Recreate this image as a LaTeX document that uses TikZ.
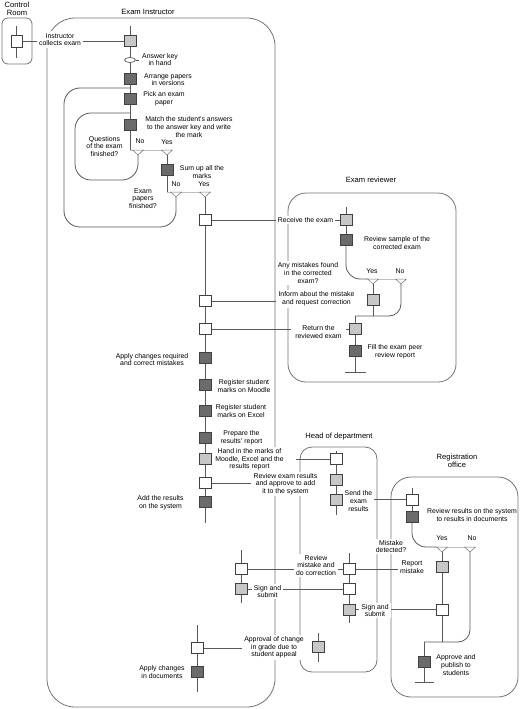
\documentclass[tikz,border=0pt]{standalone}
\usepackage{fontspec}
\setmainfont{Liberation Sans}
\usetikzlibrary{shapes.geometric,backgrounds}
\newcommand{\mytri}[3]{\coordinate (#1) at (#2,#3); \coordinate (#1a) at (#2,#3+5); \draw[tri] (#2-5.5,#3) -- (#2+5.5,#3) -- (#2,#3+5) -- cycle;}
\begin{document}
\begin{tikzpicture}[x=1pt,y=-1pt,
  every node/.style={font=\fontsize{6.9}{7.6}\selectfont, inner sep=0pt},
  sq/.style={draw=black!75, line width=0.6pt, minimum width=12pt, minimum height=11pt},
  wsq/.style={sq, fill=white},
  dsq/.style={sq, fill=black!58},
  hsq/.style={sq, fill=black!22},
  txt/.style={align=center},
  lbl/.style={align=center, fill=white, inner xsep=2pt, inner ysep=1.5pt},
  role/.style={align=center, font=\fontsize{7.6}{8.4}\selectfont},
  ln/.style={draw=black!65, line width=0.8pt},
  box/.style={draw=black!55, line width=0.8pt},
  gln/.style={draw=black!25, line width=0.8pt},
  tri/.style={draw=black!55, fill=white, line width=0.5pt},
]
\useasboundingbox (0,0) rectangle (520,709);
% ---------- Control Room
\node[role] (crl) at (17,8.5) {Control\\Room};
\node[wsq, minimum width=11pt, minimum height=12pt] (crs) at (16.5,41) {};
\coordinate (crt) at (16.5,26);
\coordinate (crb) at (16.5,58);
% ---------- Exam Instructor
\node[role] (eil) at (148,11.5) {Exam Instructor};
\node[hsq] (eih1) at (130,41) {};
\node[lbl, inner ysep=2.5pt] (collect) at (60,39.5) {Instructor\\collects exam};
\coordinate (e1t) at (130,26);
\node[draw=black!75, line width=0.6pt, fill=white, ellipse, minimum width=11pt, minimum height=5pt] (eak) at (130,60) {};
\coordinate (eakt) at (138.5,60);
\node[txt] (eakl) at (160,59.5) {Answer key\\in hand};
\node[dsq] (eid1) at (130,79) {};
\node[txt] (eid1l) at (168,79.5) {Arrange papers\\in versions};
\node[dsq] (eid2) at (130,99) {};
\node[txt] (eid2l) at (164,99) {Pick an exam\\paper};
\node[dsq] (eid3) at (130,125) {};
\node[txt] (eid3l) at (189,127) {Match the student's answers\\to the answer key and write\\the mark};
\coordinate (ol) at (130,88);
\coordinate (olc) at (64,227);
\coordinate (il) at (130,113);
\coordinate (ilc) at (75,180);
\coordinate (d1c) at (130,150);
\node[txt] (d1q) at (104.5,146.5) {Questions\\of the exam\\finished?};
\node[txt] (d1nl) at (140,141.5) {No};
\node[txt] (d1yl) at (167,142) {Yes};
\node[dsq] (eid4) at (167,170) {};
\node[txt] (eid4l) at (202,172) {Sum up all the\\marks};
\coordinate (d2c) at (167,192);
\node[txt] (d2q) at (143,198.5) {Exam\\papers\\finished?};
\node[txt] (d2nl) at (176,184.5) {No};
\node[txt] (d2yl) at (204,184.5) {Yes};
\node[wsq] (eiw1) at (205,220) {};
\node[wsq] (eiw2) at (205,301) {};
\node[wsq] (eiw3) at (205,329) {};
\node[dsq] (eid5) at (205,358) {};
\node[txt] (eid5l) at (152,359.5) {Apply changes required\\and correct mistakes};
\node[dsq] (eid6) at (205,385) {};
\node[txt] (eid6l) at (244,386) {Register student\\marks on Moodle};
\node[dsq] (eid7) at (205,411) {};
\node[txt] (eid7l) at (241,411) {Register student\\marks on Excel};
\node[dsq] (eid8) at (205,438) {};
\node[txt] (eid8l) at (241.5,438) {Prepare the\\results' report};
\node[hsq] (eih2) at (205,459) {};
\node[lbl] (hand) at (249.5,459.5) {Hand in the marks of\\Moodle, Excel and the\\results report};
\coordinate (handend) at ([xshift=10pt]hand.east);
\node[wsq] (eiw4) at (205,483) {};
\node[dsq] (eid9) at (205,502) {};
\node[txt] (eid9l) at (160.5,503) {Add the results\\on the system};
\coordinate (e2b) at (205,523);
\coordinate (e3t) at (241,550);
\node[wsq] (eiw5) at (241,569) {};
\node[hsq] (eih3) at (241,589) {};
\coordinate (e3b) at (241,603);
\coordinate (e4t) at (197,625);
\node[wsq] (eiw6) at (197,648) {};
\node[dsq] (eid10) at (197,672) {};
\node[txt] (eid10l) at (162,672) {Apply changes\\in documents};
\coordinate (e4b) at (197,692);
% ---------- Exam reviewer
\node[role] (erl) at (371,180) {Exam reviewer};
\coordinate (ert) at (346,207);
\node[hsq] (erh1) at (346,220) {};
\node[dsq] (erd1) at (346,240) {};
\node[txt] (erd1l) at (397,243) {Review sample of the\\corrected exam};
\coordinate (d3l) at (367.5,279);
\node[txt] (d3yl) at (372,271.5) {Yes};
\node[txt] (d3nl) at (400,271.5) {No};
\node[hsq] (erh2) at (373,300) {};
\coordinate (erj1) at (373,316);
\coordinate (erj) at (355,316);
\node[hsq] (erh3) at (355,329) {};
\node[dsq] (erd2) at (355,351) {};
\node[txt] (erd2l) at (395,352) {Fill the exam peer\\review report};
\coordinate (erb) at (355,372);
\coordinate (erb1) at (345,372);
\coordinate (erb2) at (366,372);
\node[lbl] (recv) at (305.5,220) {Receive the exam};
\node[lbl, inner xsep=1pt] (anym) at (308,273) {Any mistakes found\\in the corrected\\exam?};
\node[lbl] (infm) at (316.5,299) {Inform about the mistake\\and request correction};
\node[lbl, inner xsep=4pt] (retn) at (318.5,332) {Return the\\reviewed exam};
% ---------- Head of department
\node[role] (hodl) at (339,437) {Head of department};
\coordinate (h1t) at (336,451);
\node[wsq] (hodw1) at (336,459) {};
\node[hsq] (hodh1) at (336,480) {};
\node[hsq] (hodh2) at (336,499.5) {};
\coordinate (h1b) at (336,515);
\node[lbl] (send) at (358.5,501) {Send the\\exam\\results};
\node[lbl] (rvres) at (285.5,484) {Review exam results\\and approve to add\\it to the system};
\coordinate (h2t) at (349,553);
\node[wsq] (hodw2) at (349,569) {};
\node[wsq] (hodw3) at (349,589) {};
\node[hsq] (hodh3) at (349,609.5) {};
\coordinate (h2b) at (349,623);
\coordinate (h3t) at (318,633);
\node[hsq] (hodh4) at (318,647) {};
\coordinate (h3b) at (318,662);
\node[lbl] (rvmis) at (316,565.5) {Review\\mistake and\\do correction};
\node[lbl] (sgn1) at (267.5,591.5) {Sign and\\submit};
\node[lbl] (sgn2) at (375,610.5) {Sign and\\submit};
\node[lbl] (aprv) at (274,647.5) {Approval of change\\in grade due to\\student appeal};
\node[lbl] (mdet) at (391,546.5) {Mistake\\detected?};
\node[lbl] (repm) at (412,567) {Report\\mistake};
% ---------- Registration office
\node[role] (rol) at (457,460.5) {Registration\\office};
\coordinate (rot) at (412,488);
\node[wsq] (row1) at (412,499.5) {};
\node[dsq] (rod1) at (412,517) {};
\node[txt] (rod1l) at (472,515) {Review results on the system\\to results in documents};
\coordinate (d4l) at (436.5,547);
\node[txt] (d4yl) at (442,538.5) {Yes};
\node[txt] (d4nl) at (472,538.5) {No};
\node[hsq] (roh1) at (442,567) {};
\node[wsq] (row2) at (442,609.5) {};
\coordinate (roj1) at (442,642);
\coordinate (roj) at (424,642);
\node[dsq] (rod2) at (424,662) {};
\node[txt] (rod2l) at (456,665) {Approve and\\publish to\\students};
\coordinate (rob) at (424,682);
\coordinate (rob1) at (415,682);
\coordinate (rob2) at (434,682);
% ---------- decision triangles
\mytri{d1n}{138}{150}
\mytri{d1y}{167}{150}
\mytri{d2n}{176}{192}
\mytri{d2y}{205}{192}
\mytri{d3y}{373}{279}
\mytri{d3n}{401}{279}
\mytri{d4y}{442}{547}
\mytri{d4n}{470}{547}
% ---------- lines under everything
\begin{pgfonlayer}{background}
\draw[box, rounded corners=6] (2,18) rectangle (32,64);
\draw[box, rounded corners=28] (47,18) rectangle (275,707);
\draw[box, rounded corners=18] (288,193) rectangle (456,382);
\draw[box, rounded corners=12] (300,447) rectangle (377,672);
\draw[box, rounded corners=20] (391,477) rectangle (518,697);
% control room
\draw[ln] (crt) -- (crs) -- (crb);
\draw[ln] (crs) -- (eih1);
% exam instructor
\draw[ln] (e1t) -- (eih1) -- (eak) -- (eid1) -- (eid2) -- (eid3) -- (d1c);
\draw[ln] (eak.east) -- (eakt);
\draw[gln] (d1c) -- (d1y);
\draw[ln, rounded corners=16] (il) -| (ilc) -| (d1na);
\draw[ln, rounded corners=16] (ol) -| (olc) -| (d2na);
\draw[ln] (d1ya) -- (eid4) -- (d2c);
\draw[gln] (d2c) -- (d2y);
\draw[ln] (d2ya) -- (eiw1) -- (eiw2) -- (eiw3) -- (eid5) -- (eid6) -- (eid7) -- (eid8) -- (eih2) -- (eiw4) -- (eid9) -- (e2b);
\draw[ln] (e3t) -- (eiw5) -- (eih3) -- (e3b);
\draw[ln] (e4t) -- (eiw6) -- (eid10) -- (e4b);
% exam reviewer
\draw[ln] (ert) -- (erh1) -- (erd1);
\draw[ln, rounded corners=14] (erd1.south) |- (d3l);
\draw[gln] (d3l) -- (d3n);
\draw[ln] (d3ya) -- (erh2) -- (erj1);
\draw[ln, rounded corners=12] (d3na) |- (erj);
\draw[ln] (erj) -- (erh3) -- (erd2) -- (erb);
\draw[ln] (erb1) -- (erb2);
% head of department
\draw[ln] (h1t) -- (hodw1) -- (hodh1) -- (hodh2) -- (h1b);
\draw[ln] (h2t) -- (hodw2) -- (hodw3) -- (hodh3) -- (h2b);
\draw[ln] (h3t) -- (hodh4) -- (h3b);
% registration office
\draw[ln] (rot) -- (row1) -- (rod1);
\draw[ln, rounded corners=14] (rod1.south) |- (d4l);
\draw[gln] (d4l) -- (d4n);
\draw[ln] (d4ya) -- (roh1) -- (row2) -- (roj1);
\draw[ln, rounded corners=12] (d4na) |- (roj);
\draw[ln] (roj) -- (rod2) -- (rob);
\draw[ln] (rob1) -- (rob2);
% interactions
\draw[ln] (eiw1) -- (erh1);
\draw[ln] (eiw2) -- (infm.west |- eiw2);
\draw[ln] (eiw3) -- (erh3);
\draw[ln] (handend |- hodw1) -- (hodw1);
\draw[ln] (eiw4) -- (rvres.west |- eiw4);
\draw[ln] (hodh2) -- (row1);
\draw[ln] (eiw5) -- (hodw2);
\draw[ln] (eih3) -- (hodw3);
\draw[ln] (hodw2) -- (repm.west |- hodw2);
\draw[ln] (hodh3) -- (row2);
\draw[ln] (eiw6) -- (aprv.west |- eiw6);
\end{pgfonlayer}
\end{tikzpicture}
\end{document}
